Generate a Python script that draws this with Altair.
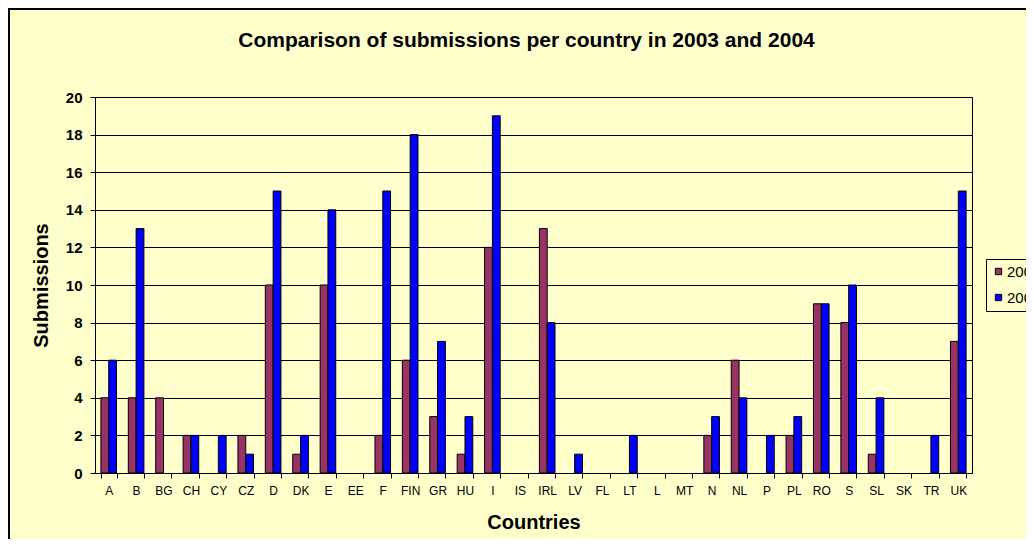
import altair as alt
import pandas as pd

countries = ["A", "B", "BG", "CH", "CY", "CZ", "D", "DK", "E", "EE", "F", "FIN", "GR", "HU", "I", "IS",
             "IRL", "LV", "FL", "LT", "L", "MT", "N", "NL", "P", "PL", "RO", "S", "SL", "SK", "TR", "UK"]
v2004 = [4, 4, 4, 2, 0, 2, 10, 1, 10, 0, 2, 6, 3, 1, 12, 0,
         13, 0, 0, 0, 0, 0, 2, 6, 0, 2, 9, 8, 1, 0, 0, 7]
v2003 = [6, 13, 0, 2, 2, 1, 15, 2, 14, 0, 15, 18, 7, 3, 19, 0,
         8, 1, 0, 2, 0, 0, 3, 4, 2, 3, 9, 10, 4, 0, 2, 15]
years = ["2004", "2003"]
colors = ["#993366", "#0000FF"]
y_ticks = list(range(0, 21, 2))

rows = []
for c, a, b in zip(countries, v2004, v2003):
    rows.append({"Country": c, "Year": "2004", "Submissions": a})
    rows.append({"Country": c, "Year": "2003", "Submissions": b})
df = pd.DataFrame(rows)

FONT = "Liberation Sans"
BG = "#FFFFCC"

bars = alt.Chart(df).mark_bar(stroke="black", strokeWidth=1, strokeOpacity=1).encode(
    x=alt.X("Country:N", sort=countries,
            scale=alt.Scale(domain=countries, paddingInner=0.43, paddingOuter=0.215),
            axis=alt.Axis(title="Countries", tickBand="extent", labelAngle=0,
                          labelFont=FONT, labelFontSize=12, labelColor="black",
                          labelPadding=7, labelOverlap=False,
                          tickColor="black", tickSize=5, domainColor="black",
                          titleFont=FONT, titleFontSize=20, titleFontWeight="bold",
                          titleColor="black", titlePadding=16, grid=False)),
    xOffset=alt.XOffset("Year:N", sort=years,
                        scale=alt.Scale(domain=years, paddingInner=0, paddingOuter=0)),
    y=alt.Y("Submissions:Q", scale=alt.Scale(domain=[0, 20], nice=False),
            axis=alt.Axis(title="Submissions", values=y_ticks, format="d",
                          labelFont=FONT, labelFontSize=15, labelFontWeight="bold",
                          labelColor="black", labelPadding=8,
                          tickColor="black", tickSize=5, domainColor="black",
                          grid=True, gridColor="black", gridOpacity=1, gridWidth=1,
                          titleFont=FONT, titleFontSize=20, titleFontWeight="bold",
                          titleColor="black", titlePadding=14)),
    color=alt.Color("Year:N", sort=years,
                    scale=alt.Scale(domain=years, range=colors),
                    legend=alt.Legend(title=None, orient="none", legendX=891, legendY=162,
                                      strokeColor="black", fillColor=BG, padding=5,
                                      symbolType="square", symbolSize=40,
                                      symbolStrokeColor="black", symbolStrokeWidth=1,
                                      labelFont=FONT, labelFontSize=15, labelColor="black",
                                      labelOffset=1, rowPadding=10)),
).transform_filter(alt.datum.Submissions > 0)

border = alt.Chart(alt.Data(values=[{"k": 1}])).mark_rect(
    filled=False, stroke="black", strokeWidth=2
).encode(
    x=alt.value(-86), y=alt.value(-88), x2=alt.value(2000), y2=alt.value(2000)
)

chart = alt.layer(bars, border).properties(
    width=877, height=376,
    title=alt.TitleParams("Comparison of submissions per country in 2003 and 2004",
                          font=FONT, fontSize=21, fontWeight="bold", color="black",
                          anchor="middle", frame="group", dx=-7, offset=-43),
    autosize=alt.AutoSizeParams(type="none"),
    padding={"left": 87, "top": 89, "right": 54, "bottom": 66},
    background=BG,
).configure_view(stroke="black", strokeWidth=1, fill=BG)

chart.save("out.html", embed_options={"renderer": "svg", "actions": False})
